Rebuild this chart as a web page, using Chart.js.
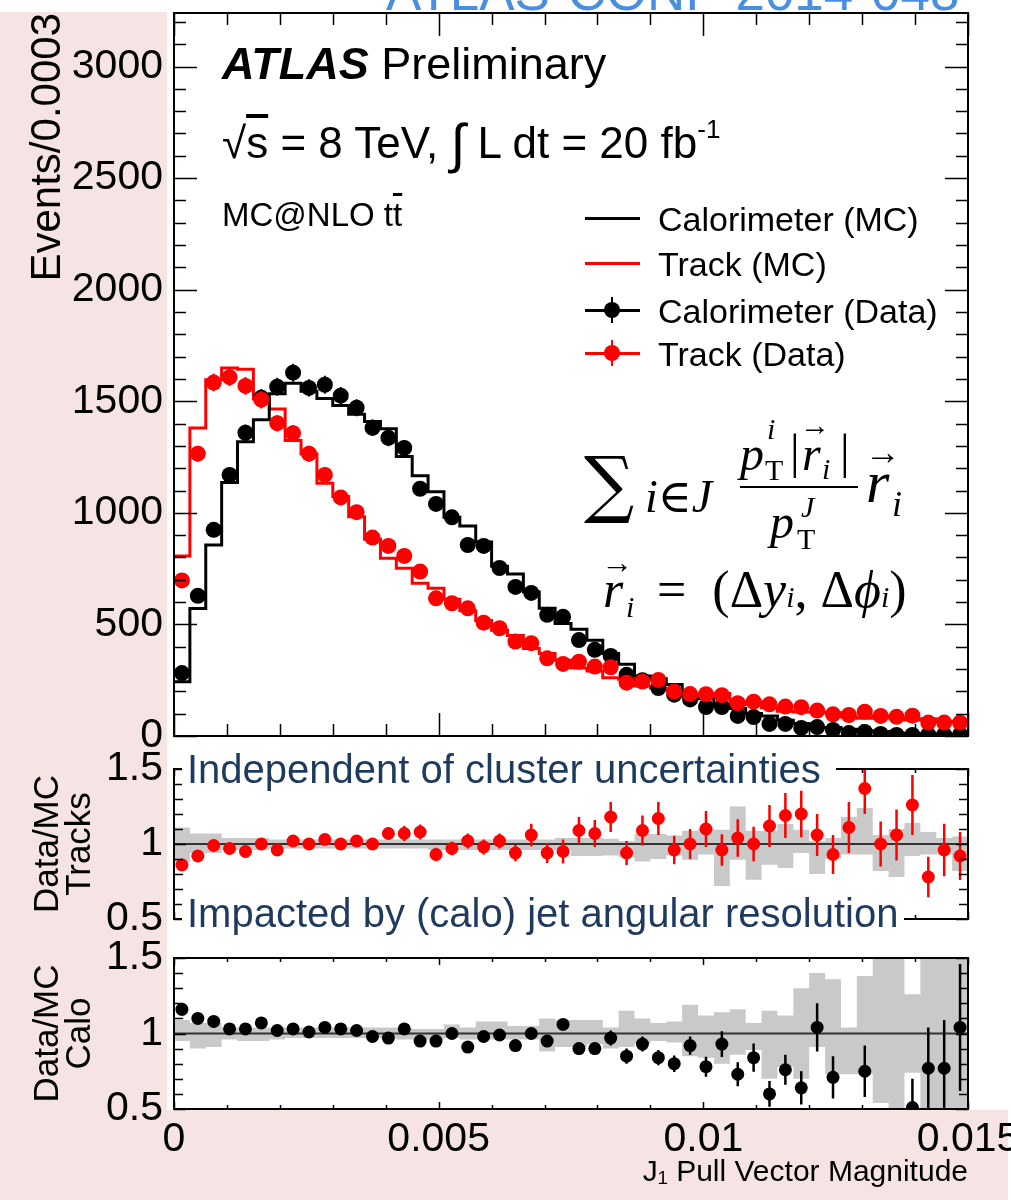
<!DOCTYPE html>
<html><head><meta charset="utf-8">
<script src="https://cdn.jsdelivr.net/npm/chart.js@4.4.1/dist/chart.umd.min.js"></script>
<style>
html,body{margin:0;padding:0;background:#fff;}
#wrap{position:relative;width:1011px;height:1200px;overflow:hidden;background:#fff;font-family:'Liberation Sans',Arial,sans-serif;color:#000;}
.pink{position:absolute;background:#f6e4e4;}
canvas{position:absolute;left:0;}
.t{position:absolute;white-space:nowrap;line-height:1;}
.s{position:absolute;white-space:nowrap;line-height:1;font-family:'Liberation Serif','DejaVu Serif',serif;}
.i{font-style:italic;}
.box{position:absolute;background:#fff;}
.ln{position:absolute;}
.dot{position:absolute;width:16px;height:16px;border-radius:8px;}
</style></head><body>
<div id="wrap">
  <div class="pink" style="left:0;top:12px;width:167px;height:1188px"></div>
  <div class="pink" style="left:0;top:1110px;width:1008px;height:90px"></div>
  <div class="t" style="left:386px;top:-35px;font-size:53px;color:#4a8fdf">ATLAS-CONF-2014-048</div>
  <canvas id="cMain" width="1011" height="752" style="top:0"></canvas>
  <canvas id="cTrk" width="1011" height="210" style="top:740px"></canvas>
  <canvas id="cCalo" width="1011" height="265" style="top:935px"></canvas>

  <!-- main panel labels -->
  <div class="t" style="left:222px;top:41px;font-size:45px"><b><i>ATLAS</i></b>&nbsp;Preliminary</div>
  <div class="t" style="left:222px;top:112px;font-size:44px">√<span style="text-decoration:overline">s</span> = 8 TeV, <span style="font-size:54px;position:relative;top:4px">∫</span> L dt = 20 fb<sup style="font-size:26px;position:relative;top:-4px">-1</sup></div>
  <div class="t" style="left:222px;top:198px;font-size:33px">MC@NLO  t<span style="text-decoration:overline">t</span></div>

  <!-- legend -->
  <div class="ln" style="left:585px;top:217px;width:55px;height:3px;background:#000"></div>
  <div class="t" style="left:658px;top:202px;font-size:34px">Calorimeter (MC)</div>
  <div class="ln" style="left:585px;top:262px;width:55px;height:3px;background:#f00"></div>
  <div class="t" style="left:658px;top:247px;font-size:34px">Track (MC)</div>
  <div class="ln" style="left:585px;top:309px;width:55px;height:3px;background:#000"></div>
  <div class="ln" style="left:611px;top:297px;width:2px;height:26px;background:#000"></div>
  <div class="dot" style="left:604px;top:302px;background:#000"></div>
  <div class="t" style="left:658px;top:294px;font-size:34px">Calorimeter (Data)</div>
  <div class="ln" style="left:585px;top:352px;width:55px;height:3px;background:#f00"></div>
  <div class="ln" style="left:611px;top:340px;width:2px;height:26px;background:#f00"></div>
  <div class="dot" style="left:604px;top:345px;background:#f00"></div>
  <div class="t" style="left:658px;top:337px;font-size:34px">Track (Data)</div>

  <!-- formula -->
  <div class="s" style="left:584px;top:446px;font-size:74px;font-family:'DejaVu Serif',serif;transform:scaleX(0.95);transform-origin:left">∑</div>
  <div class="s i" style="left:645px;top:474px;font-size:46px">i<span style="font-style:normal">∈</span>J</div>
  <div class="s i" style="left:740px;top:430px;font-size:48px">p</div>
  <div class="s i" style="left:767px;top:414px;font-size:30px">i</div>
  <div class="s" style="left:765px;top:455px;font-size:30px">T</div>
  <div class="s" style="left:790px;top:428px;font-size:48px">|</div>
  <div class="s i" style="left:802px;top:430px;font-size:48px">r</div>
  <div class="s" style="left:800px;top:410px;font-size:30px">→</div>
  <div class="s i" style="left:822px;top:454px;font-size:30px">i</div>
  <div class="s" style="left:840px;top:428px;font-size:48px">|</div>
  <div class="ln" style="left:740px;top:486px;width:118px;height:2px;background:#000"></div>
  <div class="s i" style="left:770px;top:498px;font-size:48px">p</div>
  <div class="s i" style="left:801px;top:492px;font-size:30px">J</div>
  <div class="s" style="left:797px;top:524px;font-size:30px">T</div>
  <div class="s i" style="left:866px;top:452px;font-size:60px">r</div>
  <div class="s" style="left:865px;top:434px;font-size:36px">→</div>
  <div class="s i" style="left:892px;top:486px;font-size:36px">i</div>

  <div class="s i" style="left:603px;top:564px;font-size:52px">r</div>
  <div class="s" style="left:601px;top:546px;font-size:32px">→</div>
  <div class="s i" style="left:626px;top:592px;font-size:30px">i</div>
  <div class="s" style="left:657px;top:564px;font-size:52px">=&nbsp;&nbsp;(Δ<span class="i">y</span><span class="i" style="font-size:30px">i</span>,&nbsp;Δ<span class="i">ϕ</span><span class="i" style="font-size:30px">i</span>)</div>

  <!-- ratio annotations -->
  <div class="box" style="left:182px;top:748px;width:654px;height:42px"></div>
  <div class="t" style="left:187px;top:749px;font-size:40px;color:#1f3a5f">Independent of cluster uncertainties</div>
  <div class="box" style="left:182px;top:892px;width:722px;height:44px"></div>
  <div class="t" style="left:187px;top:893px;font-size:40px;color:#1f3a5f">Impacted by (calo) jet angular resolution</div>
</div>
<script>
// ---------- data ----------
const binEdges = [0, 0.0003, 0.0006, 0.0009, 0.0012, 0.0015, 0.0018, 0.0021, 0.0024, 0.0027,
  0.003, 0.0033, 0.0036, 0.0039, 0.0042, 0.0045, 0.0048, 0.0051, 0.0054, 0.0057,
  0.006, 0.0063, 0.0066, 0.0069, 0.0072, 0.0075, 0.0078, 0.0081, 0.0084, 0.0087,
  0.009, 0.0093, 0.0096, 0.0099, 0.0102, 0.0105, 0.0108, 0.0111, 0.0114, 0.0117,
  0.012, 0.0123, 0.0126, 0.0129, 0.0132, 0.0135, 0.0138, 0.0141, 0.0144, 0.0147, 0.015];

const caloMC = [243, 571, 856, 1136, 1319, 1417, 1534, 1581, 1545, 1513,
  1481, 1442, 1409, 1377, 1253, 1166, 1095, 980, 941, 869,
  761, 726, 645, 572, 504, 478, 429, 370, 322, 269,
  256, 231, 178, 167, 140, 123, 101, 90, 71, 56,
  38, 38, 30, 24, 20, 12, 10, 8, 8, 7];
const trackMC = [807, 1380, 1596, 1649, 1644, 1510, 1465, 1324, 1264, 1133,
  1073, 983, 882, 797, 752, 685, 662, 613, 561, 518,
  474, 450, 392, 370, 340, 305, 291, 261, 254, 224,
  215, 207, 188, 170, 190, 141, 154, 127, 111, 108,
  108, 104, 85, 80, 90, 81, 72, 77, 62, 65];
const caloData = [282, 628, 924, 1170, 1359, 1516, 1565, 1628, 1560, 1574,
  1525, 1471, 1381, 1336, 1291, 1108, 1040, 980, 856, 852,
  753, 668, 641, 543, 534, 430, 386, 359, 274, 250,
  215, 185, 164, 130, 130, 90, 85, 54, 54, 36,
  40, 27, 13, 18, 9, 5, 5, 6, 6, 7];
const caloDataErr = [17, 25, 30, 34, 37, 39, 40, 40, 39, 40,
  39, 38, 37, 37, 36, 33, 32, 31, 29, 29,
  27, 26, 25, 23, 23, 21, 20, 19, 17, 16,
  15, 14, 13, 11, 11, 9, 9, 7, 7, 6,
  6, 5, 4, 4, 3, 2, 2, 2, 2, 3];
const trackData = [697, 1265, 1584, 1608, 1569, 1507, 1402, 1357, 1265, 1170,
  1069, 1003, 889, 852, 807, 737, 617, 595, 572, 508,
  483, 423, 416, 348, 323, 333, 311, 308, 239, 244,
  251, 199, 188, 187, 183, 147, 154, 142, 132, 129,
  114, 97, 94, 109, 90, 86, 91, 60, 60, 60];
const trackDataErr = [26, 36, 40, 40, 40, 39, 37, 37, 36, 34,
  33, 32, 30, 29, 28, 27, 25, 24, 24, 23,
  22, 21, 20, 19, 18, 18, 18, 18, 15, 16,
  16, 14, 14, 14, 14, 12, 12, 12, 11, 11,
  11, 10, 10, 10, 9, 9, 10, 8, 8, 8];

const trackRatio = [0.86, 0.92, 0.99, 0.97, 0.95, 1.00, 0.96, 1.02, 1.00, 1.03,
  1.00, 1.02, 1.00, 1.07, 1.07, 1.08, 0.93, 0.97, 1.02, 0.98,
  1.02, 0.94, 1.06, 0.94, 0.95, 1.09, 1.07, 1.18, 0.94, 1.09,
  1.17, 0.96, 1.00, 1.10, 0.96, 1.04, 1.00, 1.12, 1.19, 1.20,
  1.06, 0.93, 1.11, 1.37, 1.00, 1.06, 1.26, 0.78, 0.96, 0.92];
const trackRatioErr = [0.02, 0.02, 0.02, 0.02, 0.02, 0.02, 0.02, 0.02, 0.025, 0.025,
  0.03, 0.03, 0.03, 0.04, 0.05, 0.05, 0.045, 0.045, 0.05, 0.05,
  0.05, 0.055, 0.075, 0.067, 0.08, 0.09, 0.09, 0.10, 0.08, 0.10,
  0.11, 0.095, 0.10, 0.12, 0.105, 0.125, 0.115, 0.14, 0.15, 0.155,
  0.14, 0.13, 0.17, 0.17, 0.15, 0.17, 0.20, 0.135, 0.175, 0.16];
const trackBandHi = [1.11, 1.07, 1.07, 1.04, 1.04, 1.04, 1.03, 1.03, 1.03, 1.03,
  1.03, 1.03, 1.03, 1.03, 1.03, 1.03, 1.03, 1.03, 1.03, 1.03,
  1.03, 1.03, 1.03, 1.03, 1.04, 1.04, 1.04, 1.035, 1.02, 1.066,
  1.066, 1.057, 1.088, 1.10, 1.095, 1.25, 1.088, 1.088, 1.133, 1.095,
  1.02, 1.04, 1.18, 1.24, 1.06, 1.10, 1.14, 1.08, 1.04, 1.05];
const trackBandLo = [0.88, 0.94, 0.94, 0.96, 0.96, 0.96, 0.97, 0.97, 0.97, 0.97,
  0.97, 0.97, 0.97, 0.97, 0.97, 0.97, 0.96, 0.96, 0.96, 0.96,
  0.96, 0.96, 0.96, 0.96, 0.96, 0.92, 0.92, 0.924, 0.91, 0.884,
  0.90, 0.924, 0.895, 0.93, 0.72, 0.895, 0.762, 0.862, 0.84, 0.94,
  0.80, 0.90, 0.93, 0.93, 0.82, 0.78, 0.92, 0.93, 0.93, 0.82];

const caloRatio = [1.16, 1.10, 1.08, 1.03, 1.03, 1.07, 1.02, 1.03, 1.01, 1.04,
  1.03, 1.02, 0.98, 0.97, 1.03, 0.95, 0.95, 1.00, 0.91, 0.98,
  0.99, 0.92, 1.00, 0.95, 1.06, 0.90, 0.90, 0.97, 0.85, 0.93,
  0.84, 0.80, 0.92, 0.78, 0.93, 0.73, 0.84, 0.60, 0.76, 0.64,
  1.04, 0.71, null, 0.75, null, null, 0.51, 0.77, 0.77, 1.04];
const caloRatioErr = [0.04, 0.02, 0.02, 0.02, 0.02, 0.02, 0.02, 0.02, 0.02, 0.02,
  0.02, 0.02, 0.02, 0.02, 0.02, 0.02, 0.02, 0.02, 0.03, 0.03,
  0.03, 0.03, 0.03, 0.03, 0.03, 0.04, 0.04, 0.05, 0.05, 0.05,
  0.05, 0.055, 0.06, 0.066, 0.085, 0.08, 0.094, 0.085, 0.10, 0.11,
  0.16, 0.14, 0, 0.17, 0, 0, 0.19, 0.27, 0.32, 0.42];
const caloBandHi = [1.09, 1.07, 1.07, 1.04, 1.04, 1.04, 1.04, 1.04, 1.04, 1.04,
  1.04, 1.04, 1.04, 1.04, 1.04, 1.03, 1.03, 1.06, 1.04, 1.08,
  1.08, 1.05, 1.05, 1.10, 1.09, 1.09, 1.09, 1.04, 1.15, 1.10,
  1.07, 1.08, 1.19, 1.12, 1.14, 1.16, 1.07, 1.15, 1.12, 1.30,
  1.40, 1.36, 1.04, 1.38, 1.5, 1.5, 1.26, 1.5, 1.5, 1.5];
const caloBandLo = [0.95, 0.90, 0.91, 0.96, 0.95, 0.95, 0.96, 0.97, 0.97, 0.97,
  0.97, 0.97, 0.97, 0.97, 0.96, 0.96, 0.96, 0.97, 0.96, 0.96,
  0.96, 0.96, 0.96, 0.88, 0.91, 0.91, 0.93, 0.90, 0.91, 0.93,
  0.95, 0.94, 0.85, 0.84, 0.80, 0.86, 0.89, 0.70, 0.78, 0.70,
  0.91, 0.73, 0.73, 0.73, 0.54, 0.5, 0.74, 0.5, 0.5, 0.5];

const xTickValues = [0, 0.005, 0.01, 0.015];
const mainYTicks = [0, 500, 1000, 1500, 2000, 2500, 3000];
const ratioYTicks = [0.5, 1, 1.5];
const unity = 1;

// ---------- helpers ----------
const FONT = "'Liberation Sans', Arial, sans-serif";
Chart.defaults.font.family = FONT;
Chart.defaults.color = '#000';

const centers = binEdges.slice(0, -1).map((e, i) => (e + binEdges[i + 1]) / 2);
const stepData = vals => binEdges.map((e, i) => ({x: e, y: vals[Math.min(i, vals.length - 1)]}));
const pointData = vals => centers.map((c, i) => ({x: c, y: vals[i]}));

const errorBars = {
  id: 'errorBars',
  beforeDatasetDraw(chart, args) {
    const ds = chart.data.datasets[args.index];
    if (!ds.errors) return;
    const ys = chart.scales.y, ctx = chart.ctx, a = chart.chartArea;
    ctx.save();
    if (ds.clipErr) { ctx.beginPath(); ctx.rect(a.left, a.top, a.right - a.left, a.bottom - a.top); ctx.clip(); }
    ctx.strokeStyle = ds.errColor; ctx.lineWidth = ds.errWidth;
    ctx.beginPath();
    args.meta.data.forEach((pt, i) => {
      const v = ds.data[i].y, e = ds.errors[i];
      if (v === null || v === undefined || !e) return;
      ctx.moveTo(pt.x, ys.getPixelForValue(v - e));
      ctx.lineTo(pt.x, ys.getPixelForValue(v + e));
    });
    ctx.stroke();
    ctx.restore();
  }
};

const frameTicks = {
  id: 'frameTicks',
  afterDatasetsDraw(chart, args, o) {
    const {ctx, chartArea: a} = chart;
    const xs = chart.scales.x, ys = chart.scales.y;
    ctx.save();
    ctx.strokeStyle = '#000';
    ctx.lineWidth = o.tickWidth;
    ctx.beginPath();
    for (let k = 0; k <= o.xCount; k++) {
      const px = Math.round(xs.getPixelForValue(o.xStart + k * o.xStep)) + 0.5;
      const len = (k % o.xEvery === 0) ? o.xMajor : o.xMinor;
      ctx.moveTo(px, a.bottom); ctx.lineTo(px, a.bottom - len);
      ctx.moveTo(px, a.top); ctx.lineTo(px, a.top + len);
    }
    for (let k = 0; k <= o.yCount; k++) {
      const py = Math.round(ys.getPixelForValue(o.yStart + k * o.yStep)) + 0.5;
      const len = (k % o.yEvery === 0) ? o.yMajor : o.yMinor;
      ctx.moveTo(a.left, py); ctx.lineTo(a.left + len, py);
      ctx.moveTo(a.right, py); ctx.lineTo(a.right - len, py);
    }
    ctx.stroke();
    ctx.lineWidth = o.frameWidth;
    ctx.strokeRect(a.left, a.top, a.right - a.left, a.bottom - a.top);
    ctx.restore();
  }
};

function yAxis(min, max, ticksArr, title, titleFont, titlePad, titleAlign) {
  return {
    type: 'linear', min, max,
    afterBuildTicks: s => { s.ticks = ticksArr.map(v => ({value: v})); },
    ticks: {font: {size: 41}, color: '#000', padding: 11,
      callback: v => String(v)},
    grid: {display: false, drawTicks: false},
    border: {display: false},
    title: {display: true, text: title, align: titleAlign, color: '#000',
      font: titleFont, padding: {top: titlePad, bottom: 0}},
    afterFit: s => { s.width = 174; s.paddingTop = 0; s.paddingBottom = 0; s.paddingLeft = 0; s.paddingRight = 0; }
  };
}
const hiddenX = () => ({type: 'linear', min: binEdges[0], max: binEdges[binEdges.length - 1], display: false,
  afterFit: s => { s.paddingLeft = 0; s.paddingRight = 0; }});

// ---------- main panel ----------
new Chart(document.getElementById('cMain'), {
  type: 'line',
  data: {datasets: [
    {label: 'Track (Data)', data: pointData(trackData), errors: trackDataErr, errColor: '#f00', errWidth: 2,
      showLine: false, pointRadius: 8, pointBackgroundColor: '#f00', pointBorderWidth: 0, order: 0},
    {label: 'Calorimeter (Data)', data: pointData(caloData), errors: caloDataErr, errColor: '#000', errWidth: 2,
      showLine: false, pointRadius: 8, pointBackgroundColor: '#000', pointBorderWidth: 0, order: 1},
    {label: 'Calorimeter (MC)', data: stepData(caloMC), stepped: 'before', borderColor: '#000', borderWidth: 3,
      pointRadius: 0, fill: false, order: 2},
    {label: 'Track (MC)', data: stepData(trackMC), stepped: 'before', borderColor: '#f00', borderWidth: 3,
      pointRadius: 0, fill: false, order: 3}
  ]},
  options: {
    responsive: false, animation: false, events: [],
    layout: {autoPadding: false, padding: {left: 0, right: 43, top: 13, bottom: 16}},
    plugins: {legend: {display: false}, tooltip: {enabled: false},
      frameTicks: {xStart: 0, xStep: 0.001, xCount: 15, xEvery: 5, xMajor: 23, xMinor: 12,
        yStart: 0, yStep: 100, yCount: 32, yEvery: 5, yMajor: 23, yMinor: 12, tickWidth: 1.5, frameWidth: 2}},
    scales: {
      x: hiddenX(),
      y: yAxis(0, 3240, mainYTicks, 'Events/0.0003', {size: 42}, 23, 'end')
    }
  },
  plugins: [errorBars, frameTicks]
});

// ---------- ratio panels ----------
function ratioChart(id, ratio, err, hi, lo, color, titleLines, padTop, padBottom, showX) {
  return new Chart(document.getElementById(id), {
    type: 'line',
    data: {datasets: [
      {label: 'band hi', data: stepData(hi), stepped: 'before', borderWidth: 0, pointRadius: 0, fill: false, order: 3},
      {label: 'band lo', data: stepData(lo), stepped: 'before', borderWidth: 0, pointRadius: 0,
        fill: '-1', backgroundColor: '#c9c9c9', order: 2},
      {label: 'unity', data: [{x: binEdges[0], y: unity}, {x: binEdges[binEdges.length - 1], y: unity}],
        borderColor: '#333', borderWidth: 2, pointRadius: 0, fill: false, order: 1},
      {label: 'ratio', data: pointData(ratio), errors: err, errColor: color, errWidth: 2.5, clipErr: true,
        showLine: false, pointRadius: 6.5, pointBackgroundColor: color, pointBorderWidth: 0, clip: 0, order: 0}
    ]},
    options: {
      responsive: false, animation: false, events: [],
      layout: {autoPadding: false, padding: {left: 0, right: 43, top: padTop, bottom: padBottom}},
      plugins: {legend: {display: false}, tooltip: {enabled: false},
        frameTicks: {xStart: 0, xStep: 0.001, xCount: 15, xEvery: 5, xMajor: 7, xMinor: 4,
          yStart: 0.5, yStep: 0.1, yCount: 10, yEvery: 5, yMajor: 12, yMinor: 9, tickWidth: 1.5, frameWidth: 2}},
      scales: {
        x: showX ? {
          type: 'linear', min: binEdges[0], max: binEdges[binEdges.length - 1],
          afterBuildTicks: s => { s.ticks = xTickValues.map(v => ({value: v})); },
          ticks: {font: {size: 41}, color: '#000', padding: 6, maxRotation: 0, autoSkip: false,
            callback: v => String(parseFloat(v.toFixed(4)))},
          grid: {display: false, drawTicks: false}, border: {display: false},
          title: {display: true, text: 'J₁ Pull Vector Magnitude', align: 'end', color: '#000',
            font: {size: 30}, padding: {top: 0, bottom: 9}},
          afterFit: s => { s.height = 91; s.paddingLeft = 0; s.paddingRight = 0; s.paddingTop = 0; s.paddingBottom = 0; }
        } : hiddenX(),
        y: yAxis(0.5, 1.5, ratioYTicks, titleLines, {size: 35, lineHeight: 0.92}, 32, 'center')
      }
    },
    plugins: [errorBars, frameTicks]
  });
}
ratioChart('cTrk', trackRatio, trackRatioErr, trackBandHi, trackBandLo, '#f00', ['Data/MC', 'Tracks'], 29, 31, false);
ratioChart('cCalo', caloRatio, caloRatioErr, caloBandHi, caloBandLo, '#000', ['Data/MC', 'Calo'], 23, 0, true);
</script>
</body></html>
